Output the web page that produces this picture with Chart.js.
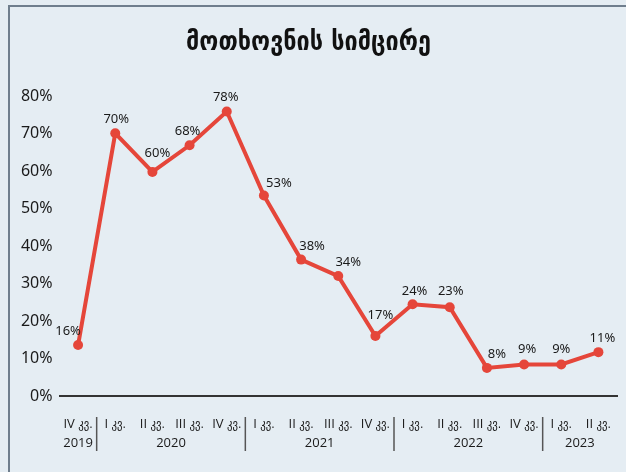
<!DOCTYPE html>
<html>
<head>
<meta charset="utf-8">
<script src="https://cdn.jsdelivr.net/npm/chart.js@4"></script>
<style>
  html, body { margin: 0; padding: 0; background: #e5edf3; }
  #wrap { position: relative; width: 626px; height: 472px; }
  canvas { display: block; }
</style>
</head>
<body>
<div id="wrap"><canvas id="c" width="626" height="472"></canvas></div>
<script>
// ---- data ----
const title = "მოთხოვნის სიმცირე";
const quarterNums = ["IV", "I", "II", "III", "IV",
                     "I", "II", "III", "IV",
                     "I", "II", "III", "IV",
                     "I", "II"];
const quarterWord = "კვ.";
const years = ["2019", "2020", "2021", "2022", "2023"];
const yearStart = [0, 1, 5, 9, 13];
const yearEnd = [0, 4, 8, 12, 14];
const values = [13.6, 70.1, 59.8, 66.9, 75.9, 53.5, 36.4, 32.0, 16.0, 24.5, 23.7, 7.5, 8.4, 8.4, 11.7];
const valueLabels = ["16%", "70%", "60%", "68%", "78%", "53%", "38%", "34%", "17%", "24%", "23%", "8%", "9%", "9%", "11%"];
const yTicks = [0, 10, 20, 30, 40, 50, 60, 70, 80];
const categories = quarterNums.map(q => q + " " + quarterWord);

// label offsets (style only)
const labelOffsets = [[-10,-14],[1,-14],[5,-19],[-2,-14],[-1,-14],[15,-12],[11,-13],[10,-14],[5,-21],[2,-13],[1,-16],[10,-14],[3,-15],[0,-15],[4,-14]];

const FONT = "'Noto Sans', sans-serif";
const XFONT = "'Open Sans', 'Liberation Sans', sans-serif";
const GEO = "'DejaVu Sans Condensed', 'DejaVu Sans', sans-serif";

const framePlugin = {
  id: 'frame',
  beforeDraw(chart) {
    const ctx = chart.ctx;
    ctx.save();
    ctx.fillStyle = '#e5edf3';
    ctx.fillRect(0, 0, chart.width, chart.height);
    ctx.strokeStyle = '#6f7e8d';
    ctx.lineWidth = 2;
    ctx.beginPath();
    ctx.moveTo(9, chart.height);
    ctx.lineTo(9, 6);
    ctx.lineTo(chart.width, 6);
    ctx.stroke();
    ctx.restore();
  }
};

const labelsPlugin = {
  id: 'valueLabels',
  afterDatasetsDraw(chart) {
    const ctx = chart.ctx;
    const meta = chart.getDatasetMeta(0);
    ctx.save();
    ctx.font = "13px " + FONT;
    ctx.fillStyle = '#1a1a1a';
    ctx.textAlign = 'center';
    ctx.textBaseline = 'middle';
    meta.data.forEach((pt, i) => {
      const o = labelOffsets[i];
      ctx.fillText(valueLabels[i], pt.x + o[0], pt.y + o[1]);
    });
    ctx.restore();
  }
};

const xLabelsPlugin = {
  id: 'xLabels',
  afterDraw(chart) {
    const ctx = chart.ctx;
    const xs = chart.scales.x;
    ctx.save();
    ctx.fillStyle = '#1a1a1a';
    ctx.textBaseline = 'middle';
    const romanFont = "13px " + XFONT;
    const geoFont = "12px " + GEO;
    quarterNums.forEach((q, i) => {
      ctx.font = romanFont;
      const w1 = ctx.measureText(q + " ").width;
      ctx.font = geoFont;
      const w2 = ctx.measureText(quarterWord).width;
      const x0 = xs.getPixelForValue(i) - (w1 + w2) / 2;
      ctx.textAlign = 'left';
      ctx.font = romanFont;
      ctx.fillText(q, x0, 424);
      ctx.font = geoFont;
      ctx.fillText(quarterWord, x0 + w1, 425);
    });
    ctx.font = "13px " + XFONT;
    ctx.textAlign = 'center';
    years.forEach((y, k) => {
      const x = (xs.getPixelForValue(yearStart[k]) + xs.getPixelForValue(yearEnd[k])) / 2;
      ctx.fillText(y, x, 443);
    });
    ctx.strokeStyle = '#555';
    ctx.lineWidth = 1.5;
    yearStart.slice(1).forEach(s => {
      const x = (xs.getPixelForValue(s - 1) + xs.getPixelForValue(s)) / 2;
      ctx.beginPath();
      ctx.moveTo(x, 417);
      ctx.lineTo(x, 451);
      ctx.stroke();
    });
    ctx.restore();
  }
};

new Chart(document.getElementById('c'), {
  type: 'line',
  data: {
    labels: categories,
    datasets: [{
      data: values,
      borderColor: '#e5463a',
      backgroundColor: '#e5463a',
      borderWidth: 4,
      pointRadius: 5,
      pointBackgroundColor: '#e5463a',
      pointBorderWidth: 0,
      tension: 0
    }]
  },
  options: {
    responsive: false,
    animation: false,
    devicePixelRatio: 1,
    layout: { padding: { left: 0, right: 9, top: 0, bottom: 0 } },
    plugins: {
      legend: { display: false },
      tooltip: { enabled: false },
      title: {
        display: true,
        text: title,
        color: '#111',
        font: { family: "'DejaVu Sans Condensed', 'DejaVu Sans', sans-serif", size: 26, weight: 'bold', lineHeight: 1.2 },
        padding: { top: 28, bottom: 37 }
      }
    },
    scales: {
      x: {
        offset: true,
        grid: { display: false, drawTicks: false },
        border: { display: true, color: '#333', width: 2 },
        ticks: { display: false },
        afterFit(s) { s.height = 76; }
      },
      y: {
        min: 0,
        max: 80,
        afterBuildTicks(s) { s.ticks = yTicks.map(v => ({ value: v })); },
        grid: { display: false, drawTicks: false },
        border: { display: false },
        ticks: {
          padding: 7,
          color: '#1a1a1a',
          font: { family: FONT, size: 16 },
          callback: v => v + '%'
        },
        afterFit(s) { s.width = 59.5; }
      }
    }
  },
  plugins: [framePlugin, labelsPlugin, xLabelsPlugin]
});
</script>
</body>
</html>
